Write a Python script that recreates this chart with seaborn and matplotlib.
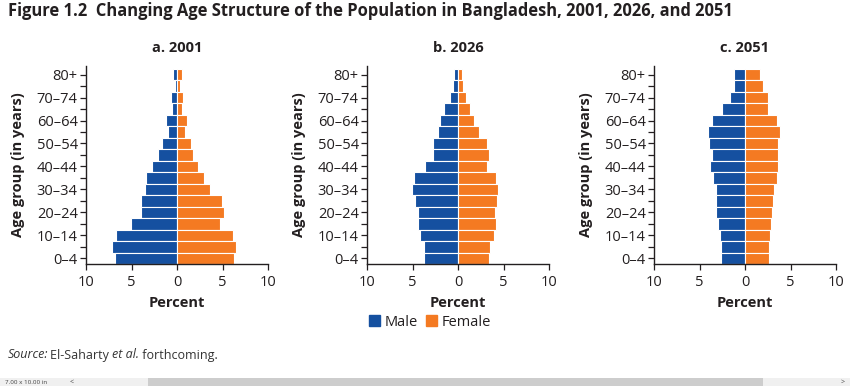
import matplotlib
matplotlib.use("Agg")
import matplotlib.pyplot as plt
import matplotlib.patches as mpatches
import seaborn as sns
import pandas as pd
import numpy as np

ages = ["0–4", "5–9", "10–14", "15–19", "20–24", "25–29", "30–34", "35–39",
        "40–44", "45–49", "50–54", "55–59", "60–64", "65–69", "70–74", "75–79", "80+"]

male_2001 = [6.8, 7.1, 6.7, 5.1, 4.0, 4.0, 3.5, 3.4, 2.7, 2.1, 1.65, 1.0, 1.2, 0.6, 0.7, 0.25, 0.4]
female_2001 = [6.25, 6.5, 6.1, 4.7, 5.15, 4.9, 3.6, 3.0, 2.3, 1.75, 1.55, 0.9, 1.1, 0.6, 0.65, 0.3, 0.5]

male_2026 = [3.7, 3.7, 4.15, 4.4, 4.35, 4.7, 5.1, 4.8, 3.65, 2.75, 2.75, 2.2, 2.0, 1.5, 0.9, 0.6, 0.45]
female_2026 = [3.45, 3.55, 3.95, 4.15, 4.05, 4.25, 4.45, 4.2, 3.2, 3.4, 3.2, 2.3, 1.8, 1.3, 0.85, 0.55, 0.4]

male_2051 = [2.6, 2.65, 2.8, 3.0, 3.15, 3.15, 3.2, 3.55, 3.8, 3.6, 3.95, 4.1, 3.6, 2.5, 1.6, 1.25, 1.25]
female_2051 = [2.65, 2.65, 2.8, 2.9, 3.0, 3.05, 3.15, 3.5, 3.65, 3.6, 3.65, 3.8, 3.5, 2.5, 2.5, 1.95, 1.7]

panels = [("a. 2001", male_2001, female_2001),
          ("b. 2026", male_2026, female_2026),
          ("c. 2051", male_2051, female_2051)]

x_ticks = [-10, -5, 0, 5, 10]
x_ticklabels = ["10", "5", "0", "5", "10"]

BLUE = "#1550a0"
ORANGE = "#f47a22"
TXT = "#231f20"

sns.set_theme(style="white")
plt.rcParams["font.family"] = ["Open Sans", "DejaVu Sans"]
plt.rcParams["text.color"] = TXT
plt.rcParams["axes.labelcolor"] = TXT
plt.rcParams["xtick.color"] = TXT
plt.rcParams["ytick.color"] = TXT

fig = plt.figure(figsize=(8.5, 3.86), dpi=100)

lefts = [86 / 850, 367 / 850, 654 / 850]
W = 182 / 850
B = 1 - 264 / 386
H = (264 - 66) / 386

order = ages[::-1]

for i, (title, male, female) in enumerate(panels):
    ax = fig.add_axes([lefts[i], B, W, H])
    df = pd.DataFrame({"age": ages, "male": -np.array(male), "female": np.array(female)})
    sns.barplot(data=df, x="male", y="age", order=order, color=BLUE, width=1.0,
                edgecolor="white", linewidth=0.8, saturation=1, ax=ax, orient="h")
    sns.barplot(data=df, x="female", y="age", order=order, color=ORANGE, width=1.0,
                edgecolor="white", linewidth=0.8, saturation=1, ax=ax, orient="h")
    ax.set_xlim(-10, 10)
    ax.set_ylim(16.5, -0.75)
    ax.set_xticks(x_ticks)
    ax.set_xticklabels(x_ticklabels, fontsize=10.5)
    yt = list(range(len(order)))
    ax.set_yticks(yt)
    ax.set_yticklabels([lab if (16 - k) % 2 == 0 else "" for k, lab in enumerate(order)], fontsize=10.5)
    ax.tick_params(axis="both", which="both", direction="out", length=4, width=0.9,
                   left=True, bottom=True, pad=2)
    ax.tick_params(axis="x", pad=4)
    for s in ["top", "right"]:
        ax.spines[s].set_visible(False)
    for s in ["left", "bottom"]:
        ax.spines[s].set_color(TXT)
        ax.spines[s].set_linewidth(1.0)
    ax.set_xlabel("Percent", fontsize=10.5, fontweight="bold", labelpad=4)
    ax.set_ylabel("Age group (in years)", fontsize=10.5, fontweight="bold", labelpad=8)
    ax.set_title(title, fontsize=10.5, fontweight="bold", pad=10)

handles = [mpatches.Patch(color=BLUE, label="Male"), mpatches.Patch(color=ORANGE, label="Female")]
fig.legend(handles=handles, loc="center", bbox_to_anchor=(430 / 850, 1 - 322 / 386), ncol=2,
           frameon=False, fontsize=10.5, handlelength=0.75, handleheight=0.75,
           handletextpad=0.3, columnspacing=0.6)

fig.text(8 / 850, 1 - 11 / 386, "Figure 1.2  Changing Age Structure of the Population in Bangladesh, 2001, 2026, and 2051",
         fontsize=11.9, fontweight="bold", va="center", ha="left")

# Source line
ov = fig.add_axes([0, 0, 1, 1], facecolor="none")
ov.set_axis_off()
ov.set_xlim(0, 850)
ov.set_ylim(386, 0)
t1 = ov.text(8, 355, "Source:", fontsize=9, style="italic", va="center", ha="left", color="#333333")
t2 = ov.annotate("El-Saharty ", xy=(1, 0), xycoords=t1, xytext=(1.2, 0), textcoords="offset points",
                 va="bottom", ha="left", fontsize=9, color="#333333")
t3 = ov.annotate("et al.", xy=(1, 0), xycoords=t2, va="bottom", ha="left", fontsize=9, style="italic", color="#333333")
ov.annotate(" forthcoming.", xy=(1, 0), xycoords=t3, va="bottom", ha="left", fontsize=9, color="#333333")

# bottom viewer strip
ov.add_patch(mpatches.Rectangle((0, 378), 850, 8, color="#f0f0f0", lw=0))
ov.add_patch(mpatches.Rectangle((148, 378), 615, 8, color="#cdcdcd", lw=0))
ov.text(5, 382, "7.00 x 10.00 in", fontsize=4.5, va="center", ha="left", color="#444444")
ov.text(70, 382, "<", fontsize=5, va="center", ha="left", color="#444444")
ov.text(845, 382, ">", fontsize=5, va="center", ha="right", color="#444444")

fig.savefig("out.png", dpi=100)
